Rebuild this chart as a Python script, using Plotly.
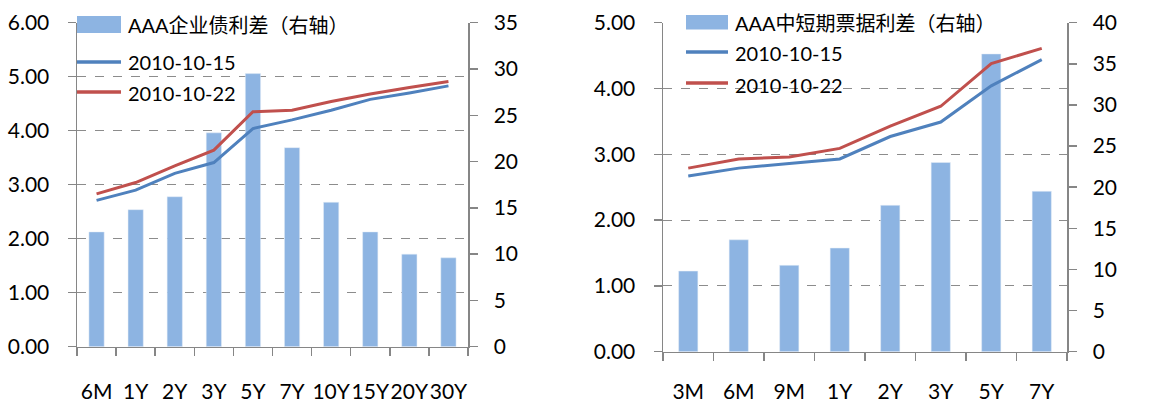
import plotly.graph_objects as go

# Left chart: AAA corporate bonds
cats_l = ["6M", "1Y", "2Y", "3Y", "5Y", "7Y", "10Y", "15Y", "20Y", "30Y"]
spread_l = [12.4, 14.8, 16.2, 23.1, 29.5, 21.5, 15.6, 12.4, 10.0, 9.6]
y1015_l = [2.71, 2.90, 3.21, 3.41, 4.04, 4.20, 4.38, 4.58, 4.70, 4.83]
y1022_l = [2.83, 3.04, 3.35, 3.64, 4.35, 4.38, 4.54, 4.68, 4.80, 4.91]

# Right chart: AAA short/medium-term notes
cats_r = ["3M", "6M", "9M", "1Y", "2Y", "3Y", "5Y", "7Y"]
spread_r = [9.8, 13.6, 10.5, 12.6, 17.8, 23.0, 36.2, 19.5]
y1015_r = [2.67, 2.79, 2.86, 2.93, 3.27, 3.49, 4.04, 4.44]
y1022_r = [2.79, 2.93, 2.96, 3.09, 3.43, 3.73, 4.38, 4.61]

name_bar_l = "AAA企业债利差（右轴）"
name_bar_r = "AAA中短期票据利差（右轴）"
name_a = "2010-10-15"
name_b = "2010-10-22"

BAR = "#8DB4E2"
BLUE = "#4F81BD"
RED = "#C0504D"
GRID = "#8C8C8C"
AX = "#868686"
FONT = "Lato, 'Noto Sans CJK SC', sans-serif"

W, H = 1169, 403
def px_x(v):
    return v / W
def px_y(v):
    return 1 - v / H

fig = go.Figure()

# Left chart traces
fig.add_trace(go.Bar(x=cats_l, y=spread_l, name=name_bar_l, marker_color=BAR,
                     width=0.39, xaxis="x", yaxis="y"))
fig.add_trace(go.Scatter(x=cats_l, y=y1015_l, name=name_a, mode="lines",
                         line=dict(color=BLUE, width=3), xaxis="x", yaxis="y2"))
fig.add_trace(go.Scatter(x=cats_l, y=y1022_l, name=name_b, mode="lines",
                         line=dict(color=RED, width=3), xaxis="x", yaxis="y2"))

# Right chart traces
fig.add_trace(go.Bar(x=cats_r, y=spread_r, name=name_bar_r, marker_color=BAR,
                     width=0.38, xaxis="x2", yaxis="y3"))
fig.add_trace(go.Scatter(x=cats_r, y=y1015_r, name=name_a, mode="lines",
                         line=dict(color=BLUE, width=3), xaxis="x2", yaxis="y4"))
fig.add_trace(go.Scatter(x=cats_r, y=y1022_r, name=name_b, mode="lines",
                         line=dict(color=RED, width=3), xaxis="x2", yaxis="y4"))

tickfont = dict(family=FONT, size=21, color="#000000")

xcommon = dict(type="category", showline=True, linecolor=AX, linewidth=1.5,
               ticks="outside", tickson="boundaries", ticklen=8, tickcolor=AX,
               tickwidth=1.5, showgrid=False, zeroline=False, tickfont=tickfont,
               tickangle=0, automargin=False, fixedrange=True)

yr_common = dict(side="right", showline=True, linecolor=AX, linewidth=1.5,
                 ticks="outside", ticklen=8, tickcolor=AX, tickwidth=1.5,
                 showgrid=False, zeroline=False, tickfont=tickfont,
                 ticklabelstandoff=12, automargin=False)
yl_common = dict(side="left", showline=True, linecolor=AX, linewidth=1.5,
                 ticks="outside", ticklen=8, tickcolor=AX, tickwidth=1.5,
                 showgrid=True, gridcolor=GRID, griddash="dash", gridwidth=1.2,
                 zeroline=False, tickfont=tickfont, tickformat=".2f",
                 ticklabelstandoff=14, automargin=False)

dom_xl = [px_x(77), px_x(468)]
dom_xr = [px_x(663), px_x(1067)]
dom_yl = [px_y(346.7), px_y(22.7)]
dom_yr = [px_y(351.7), px_y(22.7)]

# Custom legend (swatches + labels), positioned in pixel-derived paper coords
legend_items = [
    # (x0, x1, y0, y1, kind, color, text, text_x, text_y)
    (77, 121, 16, 33, "rect", BAR, name_bar_l, 126, 25),
    (77, 121, 62, 62, "line", BLUE, name_a, 126, 62),
    (77, 121, 92, 92, "line", RED, name_b, 126, 93),
    (686, 728, 15, 29.5, "rect", BAR, name_bar_r, 733, 23),
    (686, 728, 52, 52, "line", BLUE, name_a, 733, 53),
    (686, 728, 83, 83, "line", RED, name_b, 733, 85),
]
shapes = []
annotations = []
for x0, x1, y0, y1, kind, col, txt, tx, ty in legend_items:
    if kind == "rect":
        shapes.append(dict(type="rect", xref="paper", yref="paper",
                           x0=px_x(x0), x1=px_x(x1), y0=px_y(y1), y1=px_y(y0),
                           fillcolor=col, line=dict(width=0), layer="above"))
    else:
        shapes.append(dict(type="line", xref="paper", yref="paper",
                           x0=px_x(x0), x1=px_x(x1), y0=px_y(y0), y1=px_y(y1),
                           line=dict(color=col, width=3.5), layer="above"))
    annotations.append(dict(text=txt, xref="paper", yref="paper",
                            x=px_x(tx), y=px_y(ty), xanchor="left", yanchor="middle",
                            showarrow=False, font=dict(family=FONT, size=20, color="#000")))

fig.update_layout(
    width=W, height=H,
    margin=dict(l=0, r=0, t=0, b=0, autoexpand=False),
    paper_bgcolor="white", plot_bgcolor="rgba(0,0,0,0)",
    showlegend=False,
    xaxis=dict(domain=dom_xl, anchor="y", ticklabelstandoff=26, **xcommon),
    yaxis=dict(domain=dom_yl, anchor="x", range=[0, 35], dtick=5, **yr_common),
    yaxis2=dict(overlaying="y", anchor="x", range=[0, 6], dtick=1, **yl_common),
    xaxis2=dict(domain=dom_xr, anchor="y3", ticklabelstandoff=21, **xcommon),
    yaxis3=dict(domain=dom_yr, anchor="x2", range=[0, 40], dtick=5, **yr_common),
    yaxis4=dict(overlaying="y3", anchor="x2", range=[0, 5], dtick=1, **yl_common),
    shapes=shapes,
    annotations=annotations,
)

fig.write_html("out.html",
               config={"displayModeBar": False, "staticPlot": True},
               post_script="document.body.style.margin='0';document.body.style.padding='0';document.body.style.overflow='hidden';")
